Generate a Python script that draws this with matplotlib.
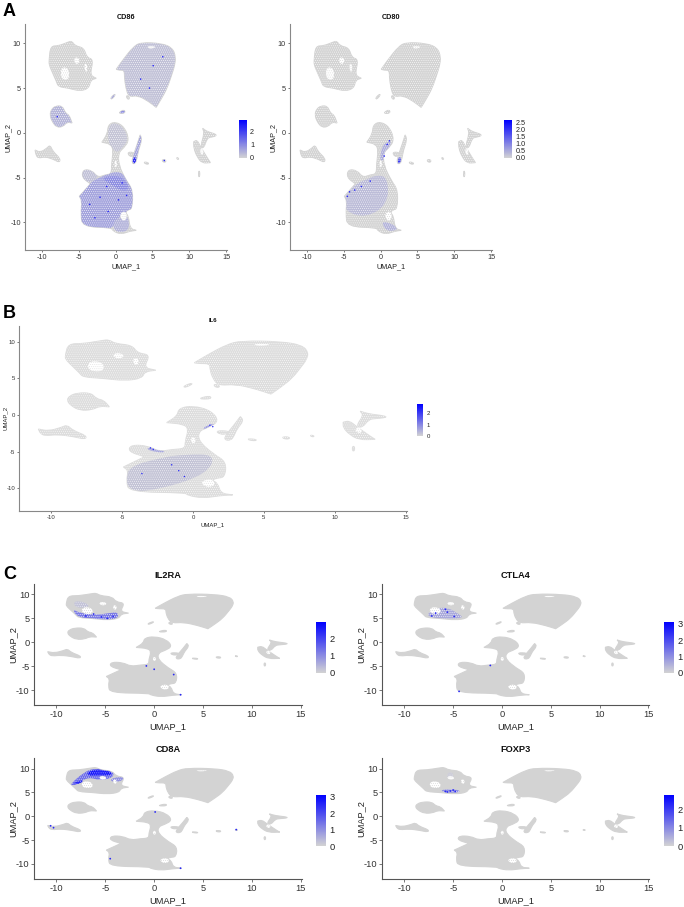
import matplotlib
matplotlib.use("Agg")
import matplotlib.pyplot as plt
from matplotlib.colors import LinearSegmentedColormap, Normalize
from matplotlib.cm import ScalarMappable
from matplotlib.patches import PathPatch
from matplotlib.path import Path

plt.rcParams['font.family'] = ['Liberation Sans', 'DejaVu Sans']
plt.rcParams['hatch.linewidth'] = 0.3
plt.rcParams['axes.unicode_minus'] = False

W, H = 684, 907

# cluster outlines, in UMAP units
# a vertex listed twice stays a sharp tip when the outline is drawn
upper_right = [(0.1,7.1),(0.1,7.1),(1.05,8.2),(2.4,9.6),(3.4,10.1),(6.2,10.0),(7.7,9.5),(8.15,8.5),(8.0,7.5),(7.65,6.6),(7.0,5.0),
               (6.2,3.8),(5.5,2.85),(5.5,2.85),(4.5,3.5),(3.0,4.2),(1.8,4.0),(1.4,5.0),(1.2,6.2),(1.2,7.0),(0.5,7.0)]
tcells = [(-9.0,8.14),(-8.8,9.7),(-7.74,9.7),(-6.38,10.15),(-5.93,10.25),(-5.48,9.7),(-4.3,9.5),(-3.9,8.4),
          (-3.0,8.2),(-3.5,6.46),(-2.62,6.09),(-2.62,6.09),(-3.4,5.9),(-3.6,5.0),(-4.8,4.65),(-6.38,5.0),(-7.74,5.15),
          (-8.0,5.72),(-8.5,6.65),(-9.0,7.6)]
island = [(-8.7,2.6),(-8.14,3.0),(-7.2,3.0),(-6.8,2.18),(-6.3,2.0),(-5.9,1.1),(-5.9,1.1),(-6.6,1.2),(-7.1,0.7),(-7.96,0.6),
          (-8.6,1.25),(-8.9,2.0)]
left_small = [(-10.9,-1.93),(-10.9,-1.93),(-10.2,-2.2),(-9.3,-1.73),(-8.87,-1.36),(-8.5,-2.1),(-7.5,-2.85),(-7.6,-3.33),(-8.4,-2.96),
              (-9.55,-2.66),(-10.45,-2.85),(-10.77,-2.5)]
main_body = [(-4.4,-4.1),(-3.2,-4.2),(-2.4,-5.0),(-1.4,-4.7),(-0.55,-4.6),(-0.55,-3.6),(-0.3,-1.9),(-0.67,-1.25),(-1.85,-1.05),(-1.85,-1.05),
             (-1.1,-0.14),(-1.0,0.9),(0.0,1.25),(1.25,0.6),(1.85,-0.83),(1.1,-1.7),(0.4,-2.2),(0.4,-3.6),(1.45,-5.35),
             (2.35,-6.4),(2.25,-8.5),(1.7,-8.6),(1.3,-8.9),(1.75,-9.3),(1.95,-10.7),(2.8,-10.9),(2.8,-10.9),
             (1.9,-11.0),(0.7,-11.35),(-0.4,-10.95),(-0.5,-10.6),(-4.5,-10.5),(-4.7,-9.0),(-4.55,-7.6),(-4.9,-7.1),(-4.9,-7.1),
             (-3.4,-5.7),(-3.4,-5.7),(-4.55,-5.0)]
right_body = [(10.6,-1.0),(10.6,-1.0),(11.04,-0.8),(11.5,-1.55),(12.6,-3.04),(12.85,-3.33),(12.85,-3.33),(11.72,-3.4),(11.04,-2.66),(10.6,-1.73)]
right_arm = [(11.5,-1.55),(12.04,-0.05),(11.8,0.5),(11.8,0.5),(12.4,0.13),(13.53,-0.13),(13.67,-0.35),(12.85,-0.5),(12.4,-0.61),(11.95,-1.73)]
right_tip = [(11.25,-4.3),(11.4,-4.3),(11.4,-4.9),(11.25,-4.9)]
sliver = [(3.35,-0.24),(3.35,-0.24),(3.57,-0.8),(3.1,-1.92),(2.9,-2.85),(2.67,-3.48),(2.2,-3.4),(2.35,-2.66),(2.99,-1.17),(3.26,-0.43)]
sliver_wing = [(1.6,-2.15),(2.6,-2.2),(2.4,-2.6),(1.9,-2.65)]
bit_a = [(-0.7,3.85),(-0.2,4.3),(0.0,4.25),(-0.5,3.75)]
bit_b = [(0.5,2.3),(1.2,2.6),(1.3,2.2),(0.6,2.15)]
bit_c = [(3.9,-3.25),(4.5,-3.35),(4.4,-3.55),(3.9,-3.4)]
bit_d = [(6.3,-3.0),(6.8,-3.0),(6.8,-3.3),(6.4,-3.25)]
bit_e = [(8.3,-2.75),(8.55,-2.85),(8.5,-3.0),(8.3,-2.9)]
bit_f = [(1.5,4.2),(1.9,4.0),(1.8,3.7),(1.5,3.9)]
clusters = [upper_right, tcells, island, left_small, main_body, right_body, right_arm, right_tip,
            sliver, sliver_wing, bit_a, bit_b, bit_c, bit_d, bit_e, bit_f]

# gaps in the clouds
holes = [[(-7.4,7.1),(-6.9,7.4),(-6.3,7.0),(-6.3,6.0),(-7.0,5.9),(-7.4,6.3)],
         [(-5.7,8.3),(-5.1,8.5),(-4.8,7.9),(-5.4,7.6)],
         [(-4.2,7.8),(-3.8,7.6),(-3.9,6.7),(-4.2,7.0)],
         [(-0.15,-3.1),(0.15,-3.0),(0.2,-3.8),(-0.1,-3.9)],
         [(0.6,-9.0),(1.3,-8.7),(1.6,-9.4),(1.2,-9.9),(0.7,-9.6)],
         [(11.4,-1.9),(11.8,-1.6),(11.95,-2.4),(11.6,-2.5)],
         [(4.3,9.7),(5.6,9.65),(5.0,9.4),(4.4,9.45)]]

# expression areas, cut to the clusters when drawn
bottom_core = [(-5.2,-7.0),(-3.2,-5.4),(-2.1,-5.0),(-0.6,-4.4),(1.0,-4.4),(2.8,-6.4),(2.6,-8.3),(1.5,-8.8),(0.0,-9.8),
               (-0.4,-10.8),(-5.0,-11.0),(-5.2,-9.0)]
upper_lobe = [(-4.9,-3.8),(-2.5,-3.9),(-2.4,-5.4),(-4.9,-5.6)]
lower_lobe = [(-0.2,-9.7),(1.0,-9.4),(1.7,-9.3),(1.9,-10.8),(0.7,-11.2),(-0.3,-10.8)]
mid_blob = [(-1.0,0.8),(0.0,1.15),(1.2,0.5),(1.7,-0.8),(1.0,-1.6),(0.3,-2.2),(-0.3,-1.9),(-1.0,-1.1)]
cd86_hot = [(2.3,-3.45),(2.7,-3.4),(2.85,-2.8),(2.4,-2.7)]
cd86_band = [(-1.9,-5.1),(-0.7,-4.8),(0.9,-4.9),(1.9,-6.1),(1.2,-6.6),(-0.6,-5.8)]
cd80_west = [(-5.0,-7.2),(-3.2,-5.6),(-1.8,-5.2),(-0.5,-4.7),(1.0,-5.0),(1.0,-8.0),(-2.0,-9.5),(-4.8,-8.8)]
cd80_stalk = [(0.4,-1.2),(1.5,-0.9),(1.2,-1.6),(0.4,-3.2),(-0.1,-3.0),(0.1,-2.0)]
cd80_lobe = [(0.1,-10.0),(1.0,-10.0),(2.2,-10.5),(2.2,-10.9),(0.8,-11.0)]
il6_core = [(-4.8,-7.2),(-2.2,-5.8),(-0.6,-5.4),(1.6,-5.4),(1.0,-8.0),(-2.0,-10.0),(-4.6,-10.6)]
il6_strip = [(-3.4,-4.6),(-2.7,-4.4),(-1.8,-5.1),(-2.6,-5.1)]
il6_spot = [(0.6,-1.9),(1.2,-1.3),(1.6,-1.2),(1.2,-1.9)]
il2ra_arc = [(-8.4,7.0),(-7.6,6.1),(-6.0,5.7),(-4.6,6.1),(-3.7,6.3),(-3.7,5.0),(-4.9,4.7),(-6.4,5.0),(-7.8,5.2)]
il2ra_north = [(-8.3,8.6),(-7.2,8.5),(-6.5,7.4),(-8.0,7.1)]
ctla4_arc = [(-7.6,6.2),(-6.6,7.2),(-5.5,7.2),(-4.5,6.0),(-3.9,5.1),(-5.5,4.9),(-7.5,5.2)]
cd8a_north = [(-8.56,6.8),(-7.2,9.2),(-6.16,10.1),(-4.27,9.6),(-4.1,8.2),(-5.5,7.5),(-6.7,8.2),(-7.7,7.1),(-8.4,6.4)]
cd8a_east = [(-4.1,8.2),(-2.9,8.2),(-3.6,7.1),(-4.6,7.4)]
cd8a_top = [(-7.0,9.0),(-6.0,9.9),(-5.0,9.5),(-4.5,9.4),(-4.3,8.6),(-5.5,8.6),(-6.5,8.5)]
cd8a_tail = [(-8.4,6.8),(-7.5,7.6),(-7.2,7.3),(-8.0,6.6)]
foxp3_south = [(-6.4,5.6),(-4.6,5.7),(-4.2,5.0),(-5.8,4.9)]
foxp3_north = [(-5.6,9.2),(-5.0,9.2),(-5.0,7.8),(-5.6,7.8)]

# (area, expression level)
gene_areas = {
    'CD86': [(bottom_core, 0.65), (cd86_band, 0.95), (upper_lobe, 0.25), (lower_lobe, 0.45), (upper_right, 0.25), (island, 0.4),
             (mid_blob, 0.2), (sliver, 0.6), (cd86_hot, 2.2), (bit_b, 0.9), (bit_a, 0.6)],
    'CD80': [(cd80_west, 0.3), (cd80_stalk, 0.45), (cd80_lobe, 0.4), (cd86_hot, 1.3)],
    'IL6': [(il6_core, 0.2), (il6_strip, 0.6), (il6_spot, 0.8)],
    'IL2RA': [(il2ra_arc, 1.2), (il2ra_north, 0.25)],
    'CTLA4': [(ctla4_arc, 0.6)],
    'CD8A': [(cd8a_north, 1.5), (cd8a_east, 1.0), (cd8a_top, 2.8), (cd8a_tail, 2.6)],
    'FOXP3': [(foxp3_south, 0.9), (foxp3_north, 0.15)],
}

# single strong cells
gene_x = {
    'CD86': [-3.5,-2.1,-1.2,0.4,1.5,-2.8,-1.0,0.9,5.1,6.4,3.4,4.6,-7.9,6.6],
    'CD80': [-4.5,-4.2,-3.5,-2.6,-1.4,0.9,1.2,0.5,2.5],
    'IL6': [-3.0,-2.8,-1.0,-0.6,-1.5,1.2,1.4,-3.6],
    'IL2RA': [-7.0,-6.2,-5.4,-4.8,-4.2,0.0,2.0,2.7,-0.8],
    'CTLA4': [-6.8,-5.8,-5.6,-4.9,-7.2,-1.2,-4.4],
    'CD8A': [-7.8,-6.5,-5.6,-4.8,-10.6,-10.3,-4.5,8.4,0.1,2.7],
    'FOXP3': [-5.8,-5.3,-4.8,-5.6,-5.0],
}
gene_y = {
    'CD86': [-8.0,-7.2,-6.0,-7.5,-7.0,-9.5,-8.8,-5.6,7.5,8.5,6.0,5.0,1.8,-3.1],
    'CD80': [-7.1,-6.6,-6.4,-6.0,-5.4,-1.3,-0.9,-2.6,-3.2],
    'IL6': [-4.5,-4.7,-7.6,-8.4,-6.8,-1.4,-1.6,-8.0],
    'IL2RA': [5.5,5.9,5.3,5.0,5.4,-5.6,-6.7,-10.9,-4.9],
    'CTLA4': [6.1,6.9,6.3,5.4,5.5,-4.8,-10.2],
    'CD8A': [7.0,8.7,9.4,9.0,-2.0,-2.4,-8.9,-2.8,0.9,-10.9],
    'FOXP3': [5.2,5.3,5.2,5.1,5.5],
}

legend_max = {'CD86': 2.9, 'CD80': 2.68, 'IL6': 2.8, 'IL2RA': 2.95, 'CTLA4': 3.1, 'CD8A': 3.1, 'FOXP3': 2.8}
legend_ticks = {'CD86': [0,1,2], 'CD80': [0,0.5,1,1.5,2,2.5], 'IL6': [0,1,2], 'IL2RA': [0,1,2],
                'CTLA4': [0,1,2,3], 'CD8A': [0,1,2,3], 'FOXP3': [0,1,2]}
legend_labels = {'CD80': ['0.0','0.5','1.0','1.5','2.0','2.5']}

x_ticks = [-10,-5,0,5,10,15]
y_ticks = [-10,-5,0,5,10]

cmap = LinearSegmentedColormap.from_list('fp', ['lightgrey', '#0000ff'])
fig = plt.figure(figsize=(W/100, H/100), dpi=100)
FINE = '.' * 8


def px_axes(left, top, right, bottom):
    return fig.add_axes([left/W, 1-bottom/H, (right-left)/W, (bottom-top)/H])


def blob(outline):
    # rounded outline: the vertices act as bezier control points
    n = len(outline)
    mid = [((outline[i][0]+outline[(i+1) % n][0])/2, (outline[i][1]+outline[(i+1) % n][1])/2) for i in range(n)]
    verts = [mid[-1]]
    codes = [Path.MOVETO]
    for i in range(n):
        verts += [outline[i], mid[i]]
        codes += [Path.CURVE3, Path.CURVE3]
    return Path(verts, codes)


all_clusters = Path.make_compound_path(*[blob(c) for c in clusters])


def umap_panel(gene, box, cbox, fs, base='#d3d3d3', speckle=None, spine='#555555', xpad=2.5):
    ax = px_axes(*box)
    norm = Normalize(0, legend_max[gene])
    for c in clusters:
        ax.add_patch(PathPatch(blob(c), facecolor=base, edgecolor=base, linewidth=0.8, zorder=1))
        if speckle:
            ax.add_patch(PathPatch(blob(c), facecolor='none', edgecolor='white', hatch=speckle, linewidth=0, zorder=1))
    for area, level in gene_areas[gene]:
        p = ax.add_patch(PathPatch(blob(area), facecolor=cmap(norm(level)), edgecolor='white', hatch=FINE, linewidth=0, zorder=2))
        p.set_clip_path(all_clusters, ax.transData)
    for h in holes:
        ax.add_patch(PathPatch(blob(h), facecolor='white', edgecolor=base, hatch=FINE, linewidth=0, zorder=3))
    ax.scatter(gene_x[gene], gene_y[gene], s=fs*0.25, c=[legend_max[gene]*0.8]*len(gene_x[gene]),
               cmap=cmap, norm=norm, linewidths=0, zorder=4)

    ax.set_xlim(-12.27, 15.1)
    ax.set_ylim(-13.1, 12.16)
    ax.set_xticks(x_ticks)
    ax.set_yticks(y_ticks)
    ax.tick_params(labelsize=fs, length=fs*0.3, width=0.5, color='#444444', labelcolor='#333333', pad=1.5)
    ax.set_xlabel('UMAP_1', fontsize=fs, color='#222222', labelpad=xpad)
    ax.set_ylabel('UMAP_2', fontsize=fs, color='#222222', labelpad=-1)
    ax.set_title(gene, fontsize=fs, fontweight='bold', color='#111111', pad=fs*0.65)
    for s in ['top', 'right']:
        ax.spines[s].set_visible(False)
    for s in ['left', 'bottom']:
        ax.spines[s].set_color(spine)
        ax.spines[s].set_linewidth(0.8)

    cax = px_axes(*cbox)
    cb = fig.colorbar(ScalarMappable(norm=norm, cmap=cmap), cax=cax)
    cb.outline.set_visible(False)
    cb.set_ticks(legend_ticks[gene])
    if gene in legend_labels:
        cb.set_ticklabels(legend_labels[gene])
    cax.tick_params(labelsize=fs, length=0, pad=2.5, labelcolor='#222222')


umap_panel('CD86', (25, 24, 227, 250), (239, 120, 246.7, 158), 5.2, speckle=FINE, spine='#888888', xpad=1.5)
umap_panel('CD80', (290, 24, 492, 250), (504, 120, 512, 158), 5.2, speckle=FINE, spine='#888888', xpad=1.5)
umap_panel('IL6', (19, 325.7, 407, 511), (417, 404, 423, 436), 4.3, base='#dddddd', speckle=FINE, spine='#888888', xpad=1.5)
umap_panel('IL2RA', (34.3, 584, 301.7, 705.3), (316, 622, 325.7, 673), 6.7)
umap_panel('CTLA4', (382.3, 584, 649.3, 705.3), (663.7, 622, 673.7, 673), 6.7)
umap_panel('CD8A', (34.3, 758.3, 301.7, 878.7), (316, 795, 325.7, 846), 6.7)
umap_panel('FOXP3', (382.3, 758.3, 649.3, 878.7), (663.7, 795, 673.7, 846), 6.7)

for letter, x, y in [('A', 3, 15.5), ('B', 3, 318), ('C', 3, 579)]:
    fig.text(x/W, 1-y/H, letter, fontsize=13, fontweight='bold', color='black')

fig.savefig('out.png', dpi=100)
